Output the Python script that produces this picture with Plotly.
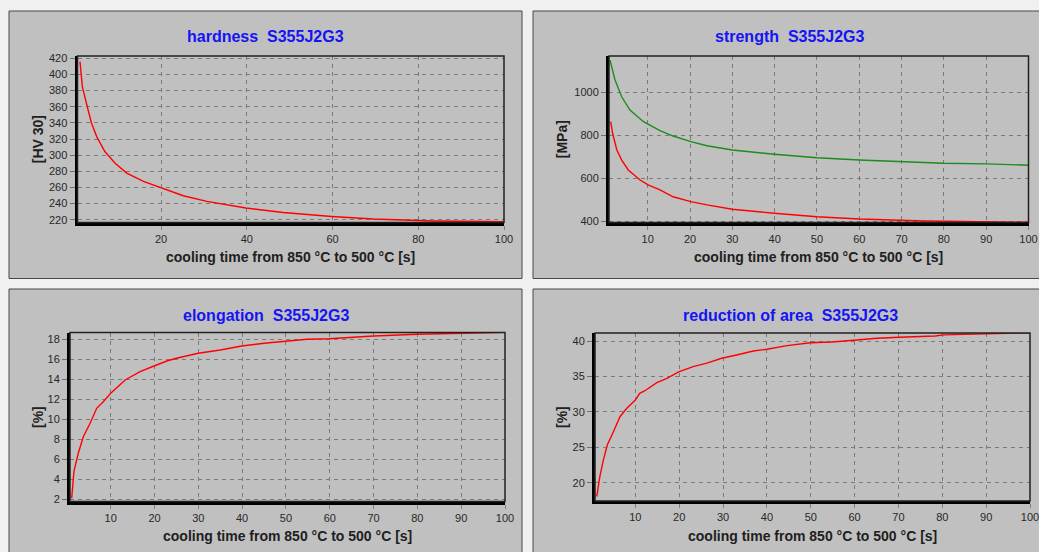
import plotly.graph_objects as go

# ---------------- data ----------------
hardness_t = [1.1, 1.65, 2.8, 3.8, 5.0, 6.9, 9.3, 12, 15.9, 20, 25.2, 30.7, 39.8, 48.5, 59.8, 69.5, 79.9, 83.5, 95.6, 100]
hardness_hv = [415.8, 384.9, 360, 339.6, 323, 304.5, 290, 277.8, 267.4, 259.2, 249.7, 242.7, 234.5, 229, 224.1, 220.9, 219.2, 218.5, 217.8, 217.5]

strength_t_tensile = [1.09, 2.27, 3.85, 5.8, 9, 12.9, 16, 20.2, 24, 30, 39.9, 50, 60, 69.9, 79.9, 90.1, 100]
tensile_mpa = [1150, 1057, 979, 917, 863, 821, 796, 770, 751, 731, 711, 695, 684, 675, 669, 666, 660]

strength_t_yield = [1.25, 1.7, 2.7, 3.85, 5.4, 8.2, 10.1, 12.9, 16, 20.2, 24, 30, 39.9, 50, 60, 66.5, 75.5, 88.5, 100]
yield_mpa = [863, 809, 731, 684, 638, 591, 568, 545, 513, 490, 475, 454.5, 436, 420, 409, 404.5, 400, 397, 394]

elong_t = [1.1, 1.6, 2.6, 3.75, 5.3, 6.8, 8.3, 10, 13.3, 16.7, 19.9, 22.8, 25, 30, 35, 39.9, 45, 50, 54.8, 59.9, 65.5, 70, 80, 90, 93, 100]
elong_pct = [2.07, 4.73, 6.57, 8.23, 9.57, 11.07, 11.73, 12.57, 13.9, 14.73, 15.3, 15.8, 16.07, 16.57, 16.9, 17.3, 17.57, 17.8, 17.97, 18.03, 18.17, 18.3, 18.47, 18.53, 18.6, 18.67]

roa_t = [1.2, 1.9, 2.7, 3.6, 5, 6.5, 8, 10, 11, 12.1, 14.9, 17.2, 20, 23.2, 26.3, 29.7, 33.1, 36.9, 40, 44.6, 49.9, 54.8, 59.8, 65.1, 70.2, 78.4, 80.3, 90.3, 97.9, 100]
roa_pct = [18.02, 20.85, 23.2, 25.33, 27.2, 29.33, 30.5, 31.7, 32.64, 32.97, 34.15, 34.76, 35.7, 36.41, 36.9, 37.6, 38.06, 38.63, 38.87, 39.38, 39.8, 39.9, 40.14, 40.42, 40.57, 40.75, 40.9, 41.03, 41.1, 41.2]

titles = ["hardness&nbsp; S355J2G3", "strength&nbsp; S355J2G3",
          "elongation&nbsp; S355J2G3", "reduction of area&nbsp; S355J2G3"]
y_titles = ["[HV 30]", "[MPa]", "[%]", "[%]"]
x_title = "cooling time from 850 °C to 500 °C [s]"

# ---------------- layout helpers ----------------
W, H = 1039, 552
def px(x):
    return x / W
def py(y):
    return 1 - y / H

RED = "#ff0000"
GREEN = "#1c8c1c"
FONT = "Liberation Sans, Arial, sans-serif"

fig = go.Figure()
fig.add_trace(go.Scatter(x=hardness_t, y=hardness_hv, mode="lines", line=dict(color=RED, width=1.4), xaxis="x", yaxis="y"))
fig.add_trace(go.Scatter(x=strength_t_tensile, y=tensile_mpa, mode="lines", line=dict(color=GREEN, width=1.4), xaxis="x2", yaxis="y2"))
fig.add_trace(go.Scatter(x=strength_t_yield, y=yield_mpa, mode="lines", line=dict(color=RED, width=1.4), xaxis="x2", yaxis="y2"))
fig.add_trace(go.Scatter(x=elong_t, y=elong_pct, mode="lines", line=dict(color=RED, width=1.4), xaxis="x3", yaxis="y3"))
fig.add_trace(go.Scatter(x=roa_t, y=roa_pct, mode="lines", line=dict(color=RED, width=1.4), xaxis="x4", yaxis="y4"))

panels = [  # panel rect (px), plot rect (px), x range, y range, x dtick, y dtick
    dict(box=(9, 11, 522, 278.5), plot=(77.5, 56, 504, 222.5), xr=[0.52, 100], yr=[216.6, 422.8], dx=20, dy=20),
    dict(box=(533, 11, 1060, 278.5), plot=(609, 56, 1028.5, 222.5), xr=[0.85, 100], yr=[393, 1169], dx=10, dy=200),
    dict(box=(9, 289, 522, 570), plot=(70, 332.5, 505, 501.5), xr=[0.71, 100], yr=[1.75, 18.65], dx=10, dy=2),
    dict(box=(533, 289, 1060, 570), plot=(595, 333, 1030, 501), xr=[0.8, 100], yr=[17.41, 41.17], dx=10, dy=5),
]

shapes = []
annotations = []
layout_axes = {}
for i, p in enumerate(panels):
    n = "" if i == 0 else str(i + 1)
    bx0, by0, bx1, by1 = p["box"]
    x0, y0, x1, y1 = p["plot"]
    shapes.append(dict(type="rect", xref="paper", yref="paper", layer="below",
                       x0=px(bx0), x1=px(bx1), y0=py(by1), y1=py(by0),
                       fillcolor="#c0c0c0", line=dict(color="#484848", width=1)))
    layout_axes["xaxis" + n] = dict(
        domain=[px(x0), px(x1)], range=p["xr"], anchor="y" + n, dtick=p["dx"], tick0=0,
        automargin=False, ticklabeloverflow="allow",
        showgrid=True, gridcolor="#7a7a7a", griddash="4px,4px", gridwidth=1,
        zeroline=False, showline=True, linecolor="black", linewidth=3,
        ticks="outside", ticklen=4, tickcolor="#808080",
        tickfont=dict(family=FONT, size=11, color="#282828"), fixedrange=True)
    layout_axes["yaxis" + n] = dict(
        domain=[py(y1), py(y0)], range=p["yr"], anchor="x" + n, dtick=p["dy"], tick0=0,
        automargin=False, ticklabeloverflow="allow",
        showgrid=True, gridcolor="#7a7a7a", griddash="4px,4px", gridwidth=1,
        zeroline=False, showline=True, linecolor="black", linewidth=3,
        ticks="outside", ticklen=5, tickcolor="#707070",
        tickfont=dict(family=FONT, size=11, color="#282828"), fixedrange=True)
    # thin top/right frame
    shapes.append(dict(type="rect", xref="x" + n + " domain", yref="y" + n + " domain", layer="above",
                       x0=0, x1=1, y0=0, y1=1, line=dict(color="#202020", width=1.5)))
    # panel title
    annotations.append(dict(text="<b>" + titles[i] + "</b>", xref="paper", yref="paper",
                            x=px((bx0 + min(bx1, 1047)) / 2), y=py(by0 + 26), xanchor="center", yanchor="middle",
                            showarrow=False, font=dict(family=FONT, size=16, color="#1414f5")))
    # x-axis title
    annotations.append(dict(text="<b>" + x_title + "</b>", xref="paper", yref="paper",
                            x=px((x0 + x1) / 2), y=py(y1 + 34.5), xanchor="center", yanchor="middle",
                            showarrow=False, font=dict(family=FONT, size=14, color="#202020")))
    # y-axis title
    annotations.append(dict(text="<b>" + y_titles[i] + "</b>", xref="paper", yref="paper", textangle=-90,
                            x=px(bx0 + 29), y=py((y0 + y1) / 2), xanchor="center", yanchor="middle",
                            showarrow=False, font=dict(family=FONT, size=14, color="#202020")))

fig.update_layout(
    width=W, height=H, margin=dict(l=0, r=0, t=0, b=0, autoexpand=False),
    paper_bgcolor="#f0f0f0", plot_bgcolor="#c0c0c0",
    showlegend=False, shapes=shapes, annotations=annotations,
    **layout_axes,
)

fig.write_html("out.html", config={"displayModeBar": False})
